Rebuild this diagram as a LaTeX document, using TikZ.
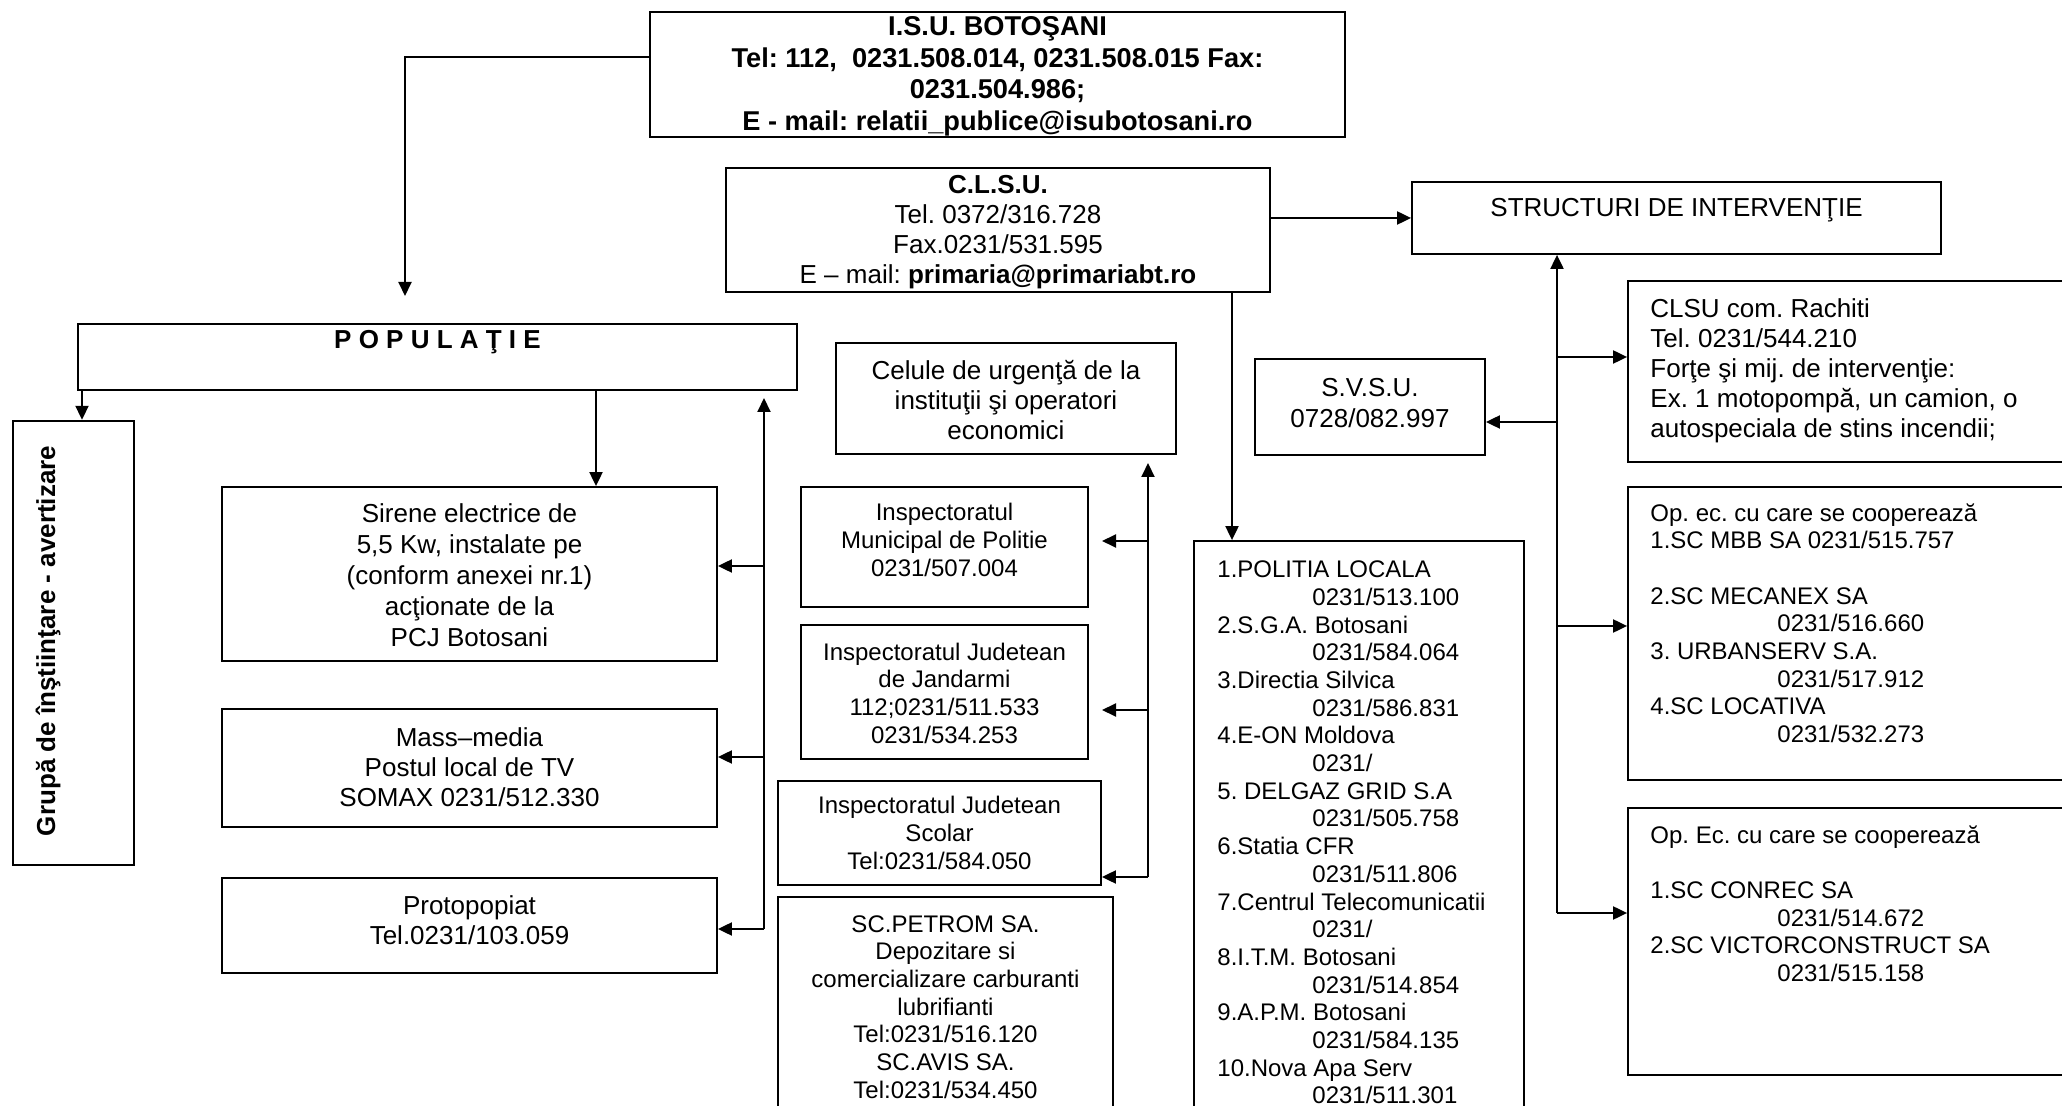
\documentclass[tikz,border=0pt]{standalone}
\usepackage{fontspec}
\setmainfont{Liberation Sans}
\usetikzlibrary{arrows.meta}
\AtBeginDocument{\frenchspacing}
\begin{document}
\begin{tikzpicture}[x=0.5pt,y=-0.5pt,
  box/.style={draw, line width=0.9pt, inner sep=0pt, rectangle},
  thickbox/.style={box, line width=1.4pt},
  wh/.style 2 args={minimum width=#1*0.5pt, minimum height=#2*0.5pt},
  txt/.style={inner sep=0pt, align=center},
  fa/.style={font=\fontsize{13}{15}\selectfont\frenchspacing},
  fb/.style={font=\fontsize{12}{13.85}\selectfont\frenchspacing},
  fc/.style={font=\fontsize{13}{15.5}\selectfont\frenchspacing},
  arr/.style={line width=1pt, -{Triangle[length=7pt,width=6.5pt]}}]
\fill[white] (0,0) rectangle (2062,1106);
\useasboundingbox (0,0) rectangle (2062,1106);

% top boxes
\node[thickbox, wh={695}{125}] (isu) at (997.5,74.5) {};
\node[txt, font=\fontsize{13.6}{15.75}\selectfont\bfseries\frenchspacing] (isuT) at (997.5,76.5)
  {I.S.U. BOTOŞANI\\Tel: 112,\ \ 0231.508.014, 0231.508.015 Fax:\\0231.504.986;\\E - mail: relatii\_publice@isubotosani.ro};

\node[box, wh={544}{124}] (clsu) at (998,230) {};
\node[txt, fa] (clsuT) at (998,232.5)
  {\textbf{C.L.S.U.}\\Tel. 0372/316.728\\Fax.0231/531.595\\E – mail: \textbf{primaria@primariabt.ro}};

\node[box, wh={529}{72}] (str) at (1676.5,218) {};
\node[txt, fa] (strT) at (1676.5,210.5) {STRUCTURI DE INTERVENŢIE};

% left column
\node[thickbox, wh={719}{66}] (pop) at (437.5,357) {};
\node[txt, font=\fontsize{13}{15}\selectfont\bfseries] (popT) at (437.5,342) {P O P U L A Ţ I E};

\node[box, line width=1.2pt, wh={121}{444}] (grp) at (73.5,643) {};
\node[txt, rotate=90, font=\fontsize{13}{15}\selectfont\bfseries] (grpT) at (48,641) {Grupă de înştiinţare - avertizare};

\node[box, wh={495}{174}] (sir) at (469.5,574) {};
\node[txt, fc] (sirT) at (469.5,575)
  {Sirene electrice de\\5,5 Kw, instalate pe\\(conform anexei nr.1)\\acţionate de la\\PCJ Botosani};

\node[box, wh={495}{118}] (mass) at (469.5,768) {};
\node[txt, fa] (massT) at (469.5,767) {Mass–media\\Postul local de TV\\SOMAX 0231/512.330};

\node[box, wh={495}{95}] (proto) at (469.5,925.5) {};
\node[txt, fa] (protoT) at (469.5,920) {Protopopiat\\Tel.0231/103.059};

% middle column
\node[box, wh={340}{111}] (cel) at (1006,398.5) {};
\node[txt, fa] (celT) at (1006,400) {Celule de urgenţă de la\\instituţii şi operatori\\economici};

\node[box, wh={287}{120}] (mun) at (944.5,547) {};
\node[txt, fb] (munT) at (944.5,540) {Inspectoratul\\Municipal de Politie\\0231/507.004};

\node[box, wh={287}{134}] (jan) at (944.5,692) {};
\node[txt, fb] (janT) at (944.5,693) {Inspectoratul Judetean\\de Jandarmi\\112;0231/511.533\\0231/534.253};

\node[box, wh={323}{104}] (sco) at (939.5,833) {};
\node[txt, fb] (scoT) at (939.5,833) {Inspectoratul Judetean\\Scolar\\Tel:0231/584.050};

\node[box, wh={335}{243}] (pet) at (945.5,1018.5) {};
\node[txt, fb] (petT) at (945.5,1007)
  {SC.PETROM SA.\\Depozitare si\\comercializare carburanti\\lubrifianti\\Tel:0231/516.120\\SC.AVIS SA.\\Tel:0231/534.450};

% list box
\node[box, wh={330}{599}] (lst) at (1359,840.5) {};
\node[txt, align=left, fb, anchor=north west] (lstT) at (1217,560.5)
  {1.POLITIA LOCALA\\\hspace*{47.5pt}0231/513.100\\
   2.S.G.A. Botosani\\\hspace*{47.5pt}0231/584.064\\
   3.Directia Silvica\\\hspace*{47.5pt}0231/586.831\\
   4.E-ON Moldova\\\hspace*{47.5pt}0231/\\
   5. DELGAZ GRID S.A\\\hspace*{47.5pt}0231/505.758\\
   6.Statia CFR\\\hspace*{47.5pt}0231/511.806\\
   7.Centrul Telecomunicatii\\\hspace*{47.5pt}0231/\\
   8.I.T.M. Botosani\\\hspace*{47.5pt}0231/514.854\\
   9.A.P.M. Botosani\\\hspace*{47.5pt}0231/584.135\\
   10.Nova Apa Serv\\\hspace*{47.5pt}0231/511.301};

% right column
\node[box, wh={230}{96}] (svsu) at (1370,407) {};
\node[txt, fc] (svsuT) at (1370,403.5) {S.V.S.U.\\0728/082.997};

\node[box, wh={452}{181}] (rac) at (1854,371.5) {};
\node[txt, align=left, fa, anchor=north west] (racT) at (1650,298)
  {CLSU com. Rachiti\\Tel. 0231/544.210\\Forţe şi mij. de intervenţie:\\Ex. 1 motopompă, un camion, o\\autospeciala de stins incendii;};

\node[box, wh={452}{293}] (op1) at (1854,633.5) {};
\node[txt, align=left, fb, anchor=north west] (op1T) at (1650,503)
  {Op. ec. cu care se cooperează\\1.SC MBB SA 0231/515.757\\[13.85pt]
   2.SC MECANEX SA\\\hspace*{63.5pt}0231/516.660\\
   3. URBANSERV S.A.\\\hspace*{63.5pt}0231/517.912\\
   4.SC LOCATIVA\\\hspace*{63.5pt}0231/532.273};

\node[box, wh={452}{267}] (op2) at (1854,941.5) {};
\node[txt, align=left, fb, anchor=north west] (op2T) at (1650,825)
  {Op. Ec. cu care se cooperează\\[13.85pt]
   1.SC CONREC SA\\\hspace*{63.5pt}0231/514.672\\
   2.SC VICTORCONSTRUCT SA\\\hspace*{63.5pt}0231/515.158};

% connectors
\coordinate (k1) at (405,57);
\coordinate (k1e) at (405,296);
\draw[arr] (isu.west |- k1) -- (k1) -- (k1e);

\draw[arr] (clsu.east |- str.west) -- (str.west);

\coordinate (k3) at (1232,0);
\draw[arr] (clsu.south -| k3) -- (lst.north -| k3);

\coordinate (k4) at (82,0);
\draw[arr] (pop.south -| k4) -- (grp.north -| k4);

\coordinate (k5) at (596,0);
\draw[arr] (pop.south -| k5) -- (sir.north -| k5);

% spine A
\coordinate (a1) at (764,398);
\coordinate (a2) at (764,929);
\coordinate (ya) at (0,566);
\coordinate (yb) at (0,757);
\draw[arr] (a2) -- (a1);
\draw[arr] (a1 |- ya) -- (sir.east |- ya);
\draw[arr] (a1 |- yb) -- (mass.east |- yb);
\draw[arr] (a2) -- (proto.east |- a2);

% spine B
\coordinate (b1) at (1148,463);
\coordinate (b2) at (1148,877);
\coordinate (bm) at (1102,541);
\coordinate (bj) at (1102,710);
\draw[arr] (b2) -- (b1);
\draw[arr] (b1 |- bm) -- (bm);
\draw[arr] (b1 |- bj) -- (bj);
\draw[arr] (b2) -- (sco.east |- b2);

% spine C
\coordinate (c2) at (1557,913);
\coordinate (yc1) at (0,357);
\coordinate (yc2) at (0,422);
\coordinate (yc3) at (0,626);
\draw[arr] (c2) -- (str.south -| c2);
\draw[arr] (c2 |- yc1) -- (rac.west |- yc1);
\draw[arr] (c2 |- yc2) -- (svsu.east |- yc2);
\draw[arr] (c2 |- yc3) -- (op1.west |- yc3);
\draw[arr] (c2) -- (op2.west |- c2);
\end{tikzpicture}
\end{document}
